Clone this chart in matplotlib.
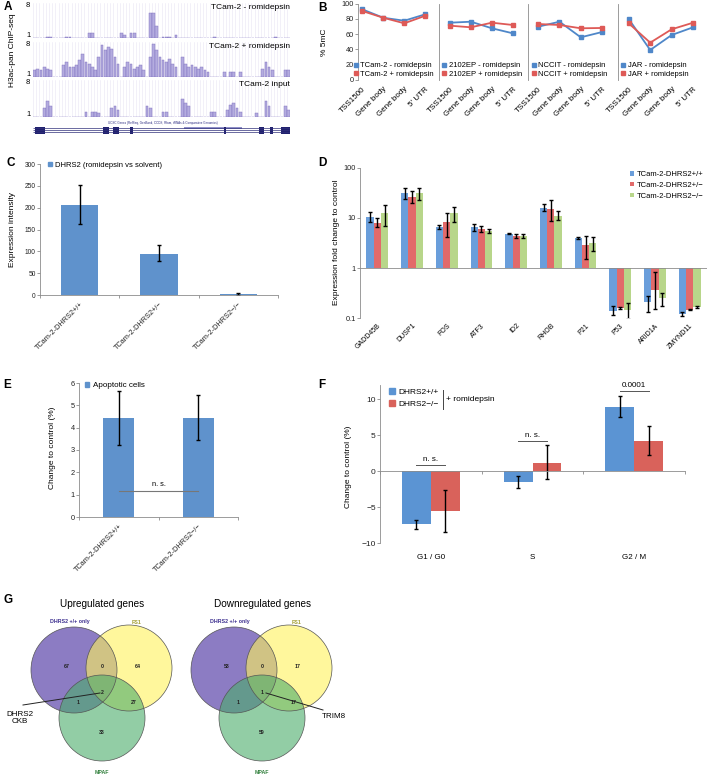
import numpy as np
import matplotlib
matplotlib.use('Agg')
import matplotlib.pyplot as plt
from matplotlib.patches import Circle, Rectangle, Patch
from matplotlib.lines import Line2D

plt.rcParams['font.family'] = ['Liberation Sans', 'DejaVu Sans']

W, H = 709, 777

# ---------------- data ----------------
# A: ChIP-seq tracks (80 bins, relative height 0..1 on a 1..8 scale)
track_minus = [
    0, 0, 0, 0, .02, .02, 0, 0, 0, 0, .02, .02, 0, 0, 0, 0, 0, .15, .15, 0,
    0, 0, 0, 0, 0, 0, 0, .15, .1, 0, .15, .15, 0, 0, 0, 0, .75, .75, .35, 0,
    .02, .02, .02, 0, .1, 0, 0, 0, 0, 0, 0, 0, 0, 0, 0, 0, .02, 0, 0, 0,
    0, 0, 0, 0, 0, 0, 0, 0, 0, 0, 0, 0, 0, 0, 0, .02, 0, 0, 0, 0]
track_plus = [
    .2, .25, .2, .3, .25, .2, 0, 0, 0, .35, .45, .3, .3, .35, .5, .7, .45, .4, .3, .2,
    .6, .95, .8, .9, .85, .6, .4, 0, .3, .45, .4, .25, .3, .35, .2, 0, .6, 1.0, .8, .6,
    .5, .45, .55, .4, .3, 0, .6, .4, .3, .35, .3, .25, .3, .2, .15, 0, 0, 0, 0, .15,
    0, .15, .15, 0, .15, 0, 0, 0, 0, 0, 0, .25, .45, .3, .2, 0, 0, 0, .2, .2]
track_input = [
    0, 0, 0, .25, .45, .3, 0, 0, 0, 0, 0, 0, 0, 0, 0, 0, .15, 0, .15, .15,
    .1, 0, 0, 0, .25, .3, .2, 0, 0, 0, 0, 0, 0, 0, 0, .3, .25, 0, 0, 0,
    .15, .15, 0, 0, 0, 0, .5, .4, .3, 0, 0, 0, 0, 0, 0, .15, .15, 0, 0, 0,
    .2, .35, .4, .25, .15, 0, 0, 0, 0, .1, 0, 0, .45, .3, 0, 0, 0, 0, .3, .2]
track_names = ['TCam-2 - romidepsin', 'TCam-2 + romidepsin', 'TCam-2 input']
exon_start = [0, 21.4, 24.5, 29.7, 58.9, 70, 73.4, 76.6]
exon_end = [3.1, 23.1, 26.3, 30.7, 59.6, 71.5, 74.3, 79.5]
utr_span = (46.4, 64.6)

# B: % 5mC
b_regions = ['TSS1500', 'Gene body', 'Gene body', "5' UTR"]
b_lines = ['TCam-2', '2102EP', 'NCCIT', 'JAR']
b_minus = [[92.4, 81.4, 77.5, 85.9], [74.9, 76.2, 67.6, 61.0],
           [69.7, 76.2, 55.8, 62.7], [79.7, 39.2, 58.8, 68.9]]
b_plus = [[90.2, 81.4, 74.1, 84.0], [71.0, 68.9, 74.9, 71.9],
          [73.2, 71.9, 67.6, 68.0], [74.1, 48.8, 66.3, 74.9]]

# C: DHRS2 expression
c_labels = ['TCam-2-DHRS2+/+', 'TCam-2-DHRS2+/\u2212', 'TCam-2-DHRS2\u2212/\u2212']
c_vals = [206, 95, 2]
c_err_lo = [162, 78, 1]
c_err_hi = [252, 114, 4]

# D: fold change (log)
d_genes = ['GADD45B', 'DUSP1', 'FOS', 'ATF3', 'ID2', 'RHOB', 'P21', 'P53', 'ARID1A', 'ZMYND11']
d_series = ['TCam-2-DHRS2+/+', 'TCam-2-DHRS2+/\u2212', 'TCam-2-DHRS2\u2212/\u2212']
d_vals = [[10.7, 31, 6.5, 6.5, 4.8, 16.1, 4.0, 0.141, 0.206, 0.121],
          [7.9, 26.7, 8.3, 6.1, 4.3, 15.2, 2.85, 0.159, 0.36, 0.147],
          [12.4, 31, 12.4, 5.4, 4.3, 11.2, 3.2, 0.145, 0.25, 0.164]]
d_lo = [[8.5, 24, 6.0, 5.6, 4.7, 13.9, 3.8, 0.117, 0.13, 0.109],
        [6.5, 19.7, 4.1, 5.3, 3.9, 8.8, 1.5, 0.148, 0.148, 0.142],
        [6.8, 23, 8.5, 4.9, 3.9, 9.2, 2.2, 0.094, 0.171, 0.158]]
d_hi = [[13.0, 40, 7.1, 7.5, 4.9, 18.8, 4.2, 0.171, 0.28, 0.133],
        [9.9, 34.6, 12.4, 7.0, 4.7, 23, 4.4, 0.167, 0.85, 0.153],
        [18.3, 40.7, 16.9, 6.0, 4.7, 13.9, 4.2, 0.2, 0.31, 0.171]]

# E: apoptotic cells
e_labels = ['TCam-2-DHRS2+/+', 'TCam-2-DHRS2\u2212/\u2212']
e_vals = [4.43, 4.45]
e_err_lo = [3.22, 3.45]
e_err_hi = [5.66, 5.48]
e_sig_level = 1.15

# F: cell cycle
f_phases = ['G1 / G0', 'S', 'G2 / M']
f_wt = [-7.4, -1.48, 9.0]
f_wt_lo = [-8.1, -2.4, 7.6]
f_wt_hi = [-6.8, -0.7, 10.4]
f_ko = [-5.55, 1.2, 4.2]
f_ko_lo = [-8.45, -1.1, 2.2]
f_ko_hi = [-2.65, 3.6, 6.25]
f_sig = ['n. s.', 'n. s.', '0.0001']
f_sig_level = [0.83, 4.2, 11.15]

# G: Venn counts (A only, A&B, B only, ABC, A&C, B&C, C only)
venn_titles = ['Upregulated genes', 'Downregulated genes']
venn_sets = ['DHRS2 +/+ only', 'FS1', 'MPAF']
venn_up = [67, 0, 64, 2, 1, 27, 33]
venn_down = [53, 0, 17, 1, 1, 17, 59]
venn_notes = ['DHRS2\nCKB', 'TRIM8']

BLUE = '#5f92cc'
RED = '#d9625b'
AX = '#8c8c8c'


def box(l, t, r, b):
    return [l / W, 1 - b / H, (r - l) / W, (b - t) / H]


def ftext(x, y, s, **kw):
    fig.text(x / W, 1 - y / H, s, **kw)


def clean(ax):
    for s in ['top', 'right']:
        ax.spines[s].set_visible(False)
    for s in ['left', 'bottom']:
        ax.spines[s].set_color(AX)
        ax.spines[s].set_linewidth(0.6)
    ax.tick_params(colors=AX, labelcolor='#222222', width=0.6, length=2)


fig = plt.figure(figsize=(W / 100, H / 100), dpi=100)

# ---------------- A ----------------
for vals, (t, b), name in zip([track_minus, track_plus, track_input],
                              [(3, 38), (42, 77), (80, 117)], track_names):
    ax = fig.add_axes(box(33, t, 290, b))
    x = np.arange(len(vals))
    for e in range(len(vals) + 1):
        ax.axvline(e - 0.5, color='#e8e5f4', lw=0.4, zorder=0)
    ax.bar(x, vals, width=0.85, color='#b4acdf', edgecolor='#7a6cbc', lw=0.3)
    ax.set_xlim(-0.5, len(vals) - 0.5)
    ax.set_ylim(0, 1.05)
    for s in ax.spines.values():
        s.set_visible(False)
    ax.set_xticks([])
    ax.set_yticks([0.1, 1.0])
    ax.set_yticklabels(['1', '8'])
    ax.tick_params(axis='y', length=0, labelsize=5.5, pad=2)
    ax.text(1.0, 0.97, name, transform=ax.transAxes, ha='right', va='top', fontsize=6)

ax = fig.add_axes(box(33, 118, 290, 134))
ax.set_xlim(-0.5, 79.5)
ax.set_ylim(4, 0)
ax.axis('off')
ax.text(40, 1.2, 'UCSC Genes (RefSeq, GenBank, CCDS, Rfam, tRNAs & Comparative Genomics)',
        ha='center', va='center', fontsize=2.2, color='#2a2a80')
for row in [2.6, 3.1, 3.6]:
    ax.hlines(row, -0.5, 79.5, color='#30307a', lw=0.5)
ax.add_patch(Rectangle((utr_span[0], 2.3), utr_span[1] - utr_span[0], 0.5,
                       color='#9090c8', lw=0))
for s0, s1 in zip(exon_start, exon_end):
    ax.add_patch(Rectangle((s0, 2.2), s1 - s0, 1.7, color='#20206e', lw=0))
ftext(13, 50, 'H3ac-pan ChIP-seq', rotation=90, ha='center', va='center', fontsize=6)

# ---------------- B ----------------
b_boxes = [(358, 439), (439, 528), (528, 618), (618, 706)]
b_xlims = [(-0.2, 3.65), (-0.52, 3.72), (-0.48, 3.75), (-0.5, 3.6)]
b_leg_x = [-0.045, 0.04, 0.04, 0.04]
for i in range(4):
    l, r = b_boxes[i]
    ax = fig.add_axes(box(l, 3.5, r, 80))
    xs = np.arange(4)
    ax.plot(xs, b_minus[i], color='#4f87c9', lw=1.3, marker='s', ms=2.2)
    ax.plot(xs, b_plus[i], color='#de5a57', lw=1.3, marker='s', ms=2.2)
    ax.set_xlim(*b_xlims[i])
    ax.set_ylim(0, 100)
    for s in ['top', 'right', 'bottom']:
        ax.spines[s].set_visible(False)
    ax.spines['left'].set_color(AX)
    ax.spines['left'].set_linewidth(0.6)
    ax.set_xticks(xs)
    ax.set_xticklabels(b_regions, rotation=45, ha='right', va='top',
                       rotation_mode='anchor', fontsize=5.8)
    ax.tick_params(axis='x', length=0, pad=4)
    if i == 0:
        ax.set_yticks(range(0, 101, 20))
        ax.tick_params(axis='y', colors=AX, labelcolor='#222222', labelsize=5.3,
                       length=2, width=0.6, pad=1)
    else:
        ax.set_yticks([])
    hs = [Line2D([], [], ls='', marker='s', ms=2.5, color='#4f87c9'),
          Line2D([], [], ls='', marker='s', ms=2.5, color='#de5a57')]
    ax.legend(hs, [b_lines[i] + ' - romidepsin', b_lines[i] + ' + romidepsin'],
              loc='lower left', bbox_to_anchor=(b_leg_x[i], 0.03), frameon=False,
              fontsize=5.5, handlelength=0.5, handletextpad=0.3,
              labelspacing=0.15, borderaxespad=0, borderpad=0)
ftext(324, 42, '% 5mC', rotation=90, ha='center', va='center', fontsize=6)

# ---------------- C ----------------
ax = fig.add_axes(box(40, 164, 278, 295))
clean(ax)
xc = np.arange(3)
ax.bar(xc, c_vals, width=0.47, color=BLUE)
ax.errorbar(xc, c_vals,
            yerr=[np.array(c_vals) - c_err_lo, np.array(c_err_hi) - c_vals],
            fmt='none', ecolor='black', elinewidth=1, capsize=1.2, capthick=1)
ax.set_xlim(-0.5, 2.5)
ax.set_ylim(0, 300)
ax.set_yticks(range(0, 301, 50))
ax.tick_params(axis='y', labelsize=4.8, pad=1)
ax.set_xticks(xc)
ax.set_xticklabels(c_labels, rotation=45, ha='right', va='top',
                   rotation_mode='anchor', fontsize=5.3)
ax.set_xticks([-0.5, 0.5, 1.5, 2.5], minor=True)
ax.tick_params(axis='x', which='major', length=0, pad=4)
ax.tick_params(axis='x', which='minor', length=2, color=AX)
ax.legend([Patch(color=BLUE)], ['DHRS2 (romidepsin vs solvent)'], loc='upper left',
          bbox_to_anchor=(0.02, 1.04), frameon=False, fontsize=5.5,
          handlelength=0.5, handleheight=0.5, handletextpad=0.4, borderaxespad=0)
ftext(12, 230, 'Expression intensity', rotation=90, ha='center', va='center', fontsize=6)

# ---------------- D ----------------
ax = fig.add_axes(box(360, 168, 707, 318))
ax.set_yscale('log')
xd = np.arange(len(d_genes))
bw = 0.21
dcols = ['#6a9edb', '#e26a6a', '#b8d68a']
for k in range(3):
    v = np.array(d_vals[k])
    pos = xd + (k - 1) * bw
    ax.bar(pos, v - 1, bottom=1, width=bw, color=dcols[k], label=d_series[k])
    ax.errorbar(pos, v, yerr=[v - np.array(d_lo[k]), np.array(d_hi[k]) - v],
                fmt='none', ecolor='black', elinewidth=1, capsize=1.1, capthick=1)
ax.axhline(1, color=AX, lw=0.6)
ax.set_xlim(-0.5, len(d_genes) - 0.5)
ax.set_ylim(0.1, 100)
for s in ['top', 'right', 'bottom']:
    ax.spines[s].set_visible(False)
ax.spines['left'].set_color(AX)
ax.spines['left'].set_linewidth(0.6)
ax.set_yticks([0.1, 1, 10, 100])
ax.set_yticklabels(['0.1', '1', '10', '100'])
ax.minorticks_off()
ax.tick_params(axis='y', colors=AX, labelcolor='#222222', labelsize=5.3, length=2,
               width=0.6, pad=1)
ax.set_xticks(xd)
ax.set_xticklabels(d_genes, rotation=45, ha='right', va='top', rotation_mode='anchor',
                   fontsize=5)
ax.tick_params(axis='x', length=0, pad=3)
ax.legend(loc='upper right', bbox_to_anchor=(1.0, 1.0), frameon=False, fontsize=5.5,
          handlelength=0.5, handleheight=0.5, handletextpad=0.4, labelspacing=0.5,
          borderaxespad=0)
ftext(337, 242, 'Expression fold change to control', rotation=90, ha='center',
      va='center', fontsize=6)

# ---------------- E ----------------
ax = fig.add_axes(box(79, 383, 238, 517))
clean(ax)
xe = np.arange(2)
ax.bar(xe, e_vals, width=0.39, color=BLUE)
ax.errorbar(xe, e_vals,
            yerr=[np.array(e_vals) - e_err_lo, np.array(e_err_hi) - e_vals],
            fmt='none', ecolor='black', elinewidth=1, capsize=1.2, capthick=1)
ax.plot(xe, [e_sig_level] * 2, color='#777777', lw=0.8)
ax.text(xe.mean(), e_sig_level + 0.15, 'n. s.', ha='center', va='bottom', fontsize=5.3)
ax.set_xlim(-0.5, 1.5)
ax.set_ylim(0, 6)
ax.set_yticks(range(7))
ax.tick_params(axis='y', labelsize=5.3, pad=1)
ax.set_xticks(xe)
ax.set_xticklabels(e_labels, rotation=45, ha='right', va='top', rotation_mode='anchor',
                   fontsize=5.3)
ax.set_xticks([-0.5, 0.5, 1.5], minor=True)
ax.tick_params(axis='x', which='major', length=0, pad=4)
ax.tick_params(axis='x', which='minor', length=2, color=AX)
ax.legend([Patch(color=BLUE)], ['Apoptotic cells'], loc='upper left',
          bbox_to_anchor=(0.02, 1.03), frameon=False, fontsize=5.8,
          handlelength=0.5, handleheight=0.5, handletextpad=0.4, borderaxespad=0)
ftext(53, 448, 'Change to control (%)', rotation=90, ha='center', va='center', fontsize=6)

# ---------------- F ----------------
ax = fig.add_axes(box(380, 385, 685, 543))
xf = np.arange(3)
fw = 0.285
ax.bar(xf - fw / 2, f_wt, width=fw, color='#5b94d3')
ax.bar(xf + fw / 2, f_ko, width=fw, color=RED)
ax.errorbar(xf - fw / 2, f_wt, yerr=[np.array(f_wt) - f_wt_lo, np.array(f_wt_hi) - f_wt],
            fmt='none', ecolor='black', elinewidth=1, capsize=1.5, capthick=1)
ax.errorbar(xf + fw / 2, f_ko, yerr=[np.array(f_ko) - f_ko_lo, np.array(f_ko_hi) - f_ko],
            fmt='none', ecolor='black', elinewidth=1, capsize=1.5, capthick=1)
for i in range(3):
    ax.plot([xf[i] - fw / 2, xf[i] + fw / 2], [f_sig_level[i]] * 2, color='#555555', lw=0.7)
    ax.text(xf[i], f_sig_level[i] + 0.35, f_sig[i], ha='center', va='bottom', fontsize=5.8)
ax.set_xlim(-0.5, 2.5)
ax.set_ylim(-10, 12)
clean(ax)
ax.spines['bottom'].set_position(('data', 0))
ax.set_yticks([-10, -5, 0, 5, 10])
ax.tick_params(axis='y', labelsize=6, pad=1)
ax.set_xticks([-0.5, 0.5, 1.5, 2.5])
ax.set_xticklabels([])
for i in range(3):
    ax.text(xf[i], -0.07, f_phases[i], transform=ax.get_xaxis_transform(),
            ha='center', va='top', fontsize=5.8)
ax.legend([Patch(color='#5b94d3'), Patch(color=RED)],
          ['DHRS2+/+', 'DHRS2\u2212/\u2212'], loc='upper left',
          bbox_to_anchor=(0.02, 1.0), frameon=False, fontsize=6,
          handlelength=0.7, handleheight=0.7, handletextpad=0.4, labelspacing=0.5,
          borderaxespad=0)
ax.plot([0.207, 0.207], [0.848, 0.968], transform=ax.transAxes, color='#444444', lw=0.7)
ax.text(0.218, 0.911, '+ romidepsin', transform=ax.transAxes, ha='left', va='center',
        fontsize=6)
ftext(348, 467, 'Change to control (%)', rotation=90, ha='center', va='center', fontsize=6)

# ---------------- G ----------------
ax = fig.add_axes(box(0, 595, 355, 777))
ax.set_xlim(0, 355)
ax.set_ylim(777, 595)
ax.axis('off')
circ = [((-28, 670), '#6f5bb5', 0.8), ((27, 668), '#fff35a', 0.6), ((0, 718), '#4aad6a', 0.6)]
spots = [(-35, 667), (0, 667), (36, 667), (0, 693), (-24, 703), (32, 703), (0, 732)]
for cx, counts, title in zip([102, 262], [venn_up, venn_down], venn_titles):
    for (dx, cy), col, al in circ:
        ax.add_patch(Circle((cx + dx, cy), 43, facecolor=col, alpha=al, lw=0))
    for (dx, cy), col, al in circ:
        ax.add_patch(Circle((cx + dx, cy), 43, facecolor='none', edgecolor='#555555', lw=0.5))
    for (dx, cy), n in zip(spots, counts):
        ax.text(cx + dx, cy, str(n), ha='center', va='center', fontsize=3.8,
                fontweight='bold', color='#222222')
    ax.text(cx, 604, title, ha='center', va='center', fontsize=7.2)
    ax.text(cx - 32, 622, venn_sets[0], ha='center', va='center', fontsize=3.8,
            fontweight='bold', color='#3c2f8f')
    ax.text(cx + 35, 622, venn_sets[1], ha='center', va='center', fontsize=3.8,
            fontweight='bold', color='#a09a2a')
    ax.text(cx, 773, venn_sets[2], ha='center', va='center', fontsize=3.8,
            fontweight='bold', color='#2f7f3a')
ax.plot([100, 23], [693, 705], color='#222222', lw=0.7)
ax.text(20, 718, venn_notes[0], ha='center', va='center', fontsize=5.8, linespacing=1.0)
ax.plot([266, 323], [693, 710], color='#222222', lw=0.7)
ax.text(334, 717, venn_notes[1], ha='center', va='center', fontsize=5.8)

# panel letters
for s, x, y in [('A', 4, 7), ('B', 318, 8), ('C', 6, 163), ('D', 318, 163),
                ('E', 3, 385), ('F', 318, 385), ('G', 3, 600)]:
    ftext(x, y, s, fontsize=8.5, fontweight='bold', ha='left', va='center')

fig.savefig('out.png', dpi=100)
